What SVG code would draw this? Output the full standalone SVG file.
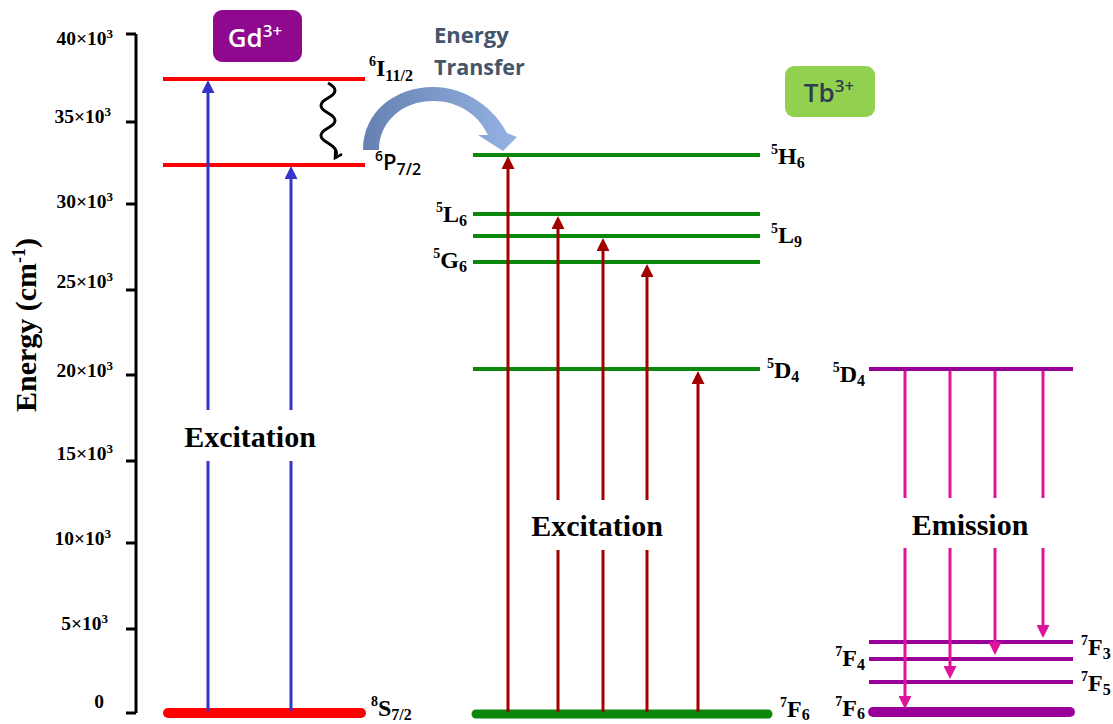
<svg xmlns="http://www.w3.org/2000/svg" width="1113" height="724" viewBox="0 0 1113 724">
<style>
.ax{stroke:#000;stroke-width:3;fill:none}
.tk{font-family:"Liberation Serif",serif;font-weight:bold;font-size:19.5px;fill:#000}
.lb{font-family:"Liberation Serif",serif;font-weight:bold;font-size:24px;fill:#000}
.big{font-family:"Liberation Serif",serif;font-weight:bold;font-size:30px;fill:#000}
.sup{font-size:14px}
.sub{font-size:16px}
.red{stroke:#ff0000;stroke-width:4}
.grn{stroke:#0b870b;stroke-width:4}
.pur{stroke:#990099;stroke-width:4}
.blue{stroke:#3535c8;stroke-width:3}
.dred{stroke:#a00000;stroke-width:3}
.mag{stroke:#dd139c;stroke-width:3}
</style>
<defs>
<marker id="hb" markerUnits="userSpaceOnUse" markerWidth="15" markerHeight="13" refX="4" refY="6.5" orient="auto"><path d="M0,0 L13,6.5 L0,13 z" fill="#3535c8"/></marker>
<marker id="hr" markerUnits="userSpaceOnUse" markerWidth="15" markerHeight="13" refX="4" refY="6.5" orient="auto"><path d="M0,0 L13,6.5 L0,13 z" fill="#a00000"/></marker>
<marker id="hm" markerUnits="userSpaceOnUse" markerWidth="15" markerHeight="13" refX="4" refY="6.5" orient="auto"><path d="M0,0 L13,6.5 L0,13 z" fill="#dd139c"/></marker>
<marker id="hk" markerUnits="userSpaceOnUse" markerWidth="12" markerHeight="12" refX="8" refY="5" orient="auto"><path d="M1,1 L8,5 L1,9" fill="none" stroke="#000" stroke-width="2.5"/></marker>
<linearGradient id="gt" x1="0" y1="0" x2="1" y2="0"><stop offset="0" stop-color="#6780b2"/><stop offset="1" stop-color="#94b3e3"/></linearGradient>
</defs>

<g id="axis">
<path class="ax" d="M136,34 L136,713 M126,34 L136,34 M126,122 L136,122 M126,204 L136,204 M126,290 L136,290 M126,375 L136,375 M126,461 L136,461 M126,543 L136,543 M126,629 L136,629 M126,713 L136,713"/>
<text class="tk" x="113" y="45" text-anchor="end">40×10<tspan dy="-7" font-size="13">3</tspan></text>
<text class="tk" x="111" y="123" text-anchor="end">35×10<tspan dy="-7" font-size="13">3</tspan></text>
<text class="tk" x="113" y="208" text-anchor="end">30×10<tspan dy="-7" font-size="13">3</tspan></text>
<text class="tk" x="113" y="288" text-anchor="end">25×10<tspan dy="-7" font-size="13">3</tspan></text>
<text class="tk" x="113" y="377" text-anchor="end">20×10<tspan dy="-7" font-size="13">3</tspan></text>
<text class="tk" x="113" y="460" text-anchor="end">15×10<tspan dy="-7" font-size="13">3</tspan></text>
<text class="tk" x="111" y="545" text-anchor="end">10×10<tspan dy="-7" font-size="13">3</tspan></text>
<text class="tk" x="108" y="630" text-anchor="end">5×10<tspan dy="-7" font-size="13">3</tspan></text>
<text class="tk" x="99" y="708" text-anchor="middle">0</text>
<text transform="translate(36,325) rotate(-90)" text-anchor="middle" font-family="'Liberation Serif',serif" font-weight="bold" font-size="30">Energy (cm<tspan dy="-11" font-size="18">-1</tspan><tspan dy="11">)</tspan></text>
</g>

<g id="gd-label">
<rect x="213" y="10" width="89" height="52" rx="9" fill="#8e098e"/>
<text x="255" y="47" font-family="'Open Sans',sans-serif" font-weight="600" font-size="26" fill="#fff" text-anchor="middle">Gd<tspan font-size="17" dy="-10">3+</tspan></text>
</g>

<g id="gd-levels">
<line class="red" x1="163" y1="79" x2="365" y2="79"/>
<line class="red" x1="163" y1="165" x2="365" y2="165"/>
<line x1="168" y1="713" x2="361" y2="713" stroke="#ff0000" stroke-width="10" stroke-linecap="round"/>
<text class="lb" x="369" y="76"><tspan class="sup" dy="-10">6</tspan><tspan dy="10">I</tspan><tspan class="sub" dy="5">11/2</tspan></text>
<text x="375" y="170" font-family="'Open Sans',sans-serif" font-weight="600" font-size="22"><tspan font-size="14" dy="-9">6</tspan><tspan dy="9">P</tspan><tspan font-size="16" dy="5">7/2</tspan></text>
<text class="lb" x="371" y="716"><tspan class="sup" dy="-10">8</tspan><tspan dy="10">S</tspan><tspan class="sub" dy="4">7/2</tspan></text>
</g>

<g id="tb-label">
<rect x="785" y="66" width="90" height="51" rx="9" fill="#92d050"/>
<text x="829" y="102" font-family="'Open Sans',sans-serif" font-weight="600" font-size="26" fill="#2f3c50" text-anchor="middle">Tb<tspan font-size="17" dy="-10">3+</tspan></text>
</g>

<g id="tb-levels">
<line class="grn" x1="473" y1="155" x2="760" y2="155"/>
<line class="grn" x1="473" y1="214" x2="760" y2="214"/>
<line class="grn" x1="473" y1="236" x2="760" y2="236"/>
<line class="grn" x1="473" y1="262" x2="760" y2="262"/>
<line class="grn" x1="473" y1="369" x2="760" y2="369"/>
<line x1="476" y1="714" x2="768" y2="714" stroke="#0b870b" stroke-width="9" stroke-linecap="round"/>
<text class="lb" x="771" y="164"><tspan class="sup" dy="-10">5</tspan><tspan dy="10">H</tspan><tspan class="sub" dy="4">6</tspan></text>
<text class="lb" x="467" y="222" text-anchor="end"><tspan class="sup" dy="-10">5</tspan><tspan dy="10">L</tspan><tspan class="sub" dy="4">6</tspan></text>
<text class="lb" x="771" y="243"><tspan class="sup" dy="-10">5</tspan><tspan dy="10">L</tspan><tspan class="sub" dy="4">9</tspan></text>
<text class="lb" x="467" y="268" text-anchor="end"><tspan class="sup" dy="-10">5</tspan><tspan dy="10">G</tspan><tspan class="sub" dy="4">6</tspan></text>
<text class="lb" x="767" y="378"><tspan class="sup" dy="-10">5</tspan><tspan dy="10">D</tspan><tspan class="sub" dy="4">4</tspan></text>
<text class="lb" x="780" y="717"><tspan class="sup" dy="-10">7</tspan><tspan dy="10">F</tspan><tspan class="sub" dy="3">6</tspan></text>
</g>

<g id="em-levels">
<line class="pur" x1="869" y1="369" x2="1073" y2="369"/>
<line class="pur" x1="869" y1="642" x2="1073" y2="642"/>
<line class="pur" x1="869" y1="659" x2="1073" y2="659"/>
<line class="pur" x1="869" y1="682" x2="1073" y2="682"/>
<line x1="873" y1="712" x2="1070" y2="712" stroke="#990099" stroke-width="10" stroke-linecap="round"/>
<text class="lb" x="865" y="382" text-anchor="end"><tspan class="sup" dy="-10">5</tspan><tspan dy="10">D</tspan><tspan class="sub" dy="4">4</tspan></text>
<text class="lb" x="1081" y="655"><tspan class="sup" dy="-10">7</tspan><tspan dy="10">F</tspan><tspan class="sub" dy="4">3</tspan></text>
<text class="lb" x="865" y="666" text-anchor="end"><tspan class="sup" dy="-10">7</tspan><tspan dy="10">F</tspan><tspan class="sub" dy="4">4</tspan></text>
<text class="lb" x="1081" y="691"><tspan class="sup" dy="-10">7</tspan><tspan dy="10">F</tspan><tspan class="sub" dy="4">5</tspan></text>
<text class="lb" x="865" y="716" text-anchor="end"><tspan class="sup" dy="-10">7</tspan><tspan dy="10">F</tspan><tspan class="sub" dy="3">6</tspan></text>
</g>

<g id="transfer">
<path d="M363,150 C363,112 395,87 433,87 C468,87 495,110 507,133 L517,137 L503,151 L478,135 L488,135 C478,114 458,101 433,101 C402,101 379,122 379,150 Z" fill="url(#gt)"/>
<text x="434" y="43" font-family="'Open Sans',sans-serif" font-weight="bold" font-size="22" fill="#44546a">Energy</text>
<text x="434" y="75" font-family="'Open Sans',sans-serif" font-weight="bold" font-size="21.5" fill="#44546a">Transfer</text>
</g>

<g id="connectors">
<line class="blue" x1="208" y1="711" x2="208" y2="461"/>
<line class="blue" x1="208" y1="410" x2="208" y2="89" marker-end="url(#hb)"/>
<line class="blue" x1="291" y1="711" x2="291" y2="461"/>
<line class="blue" x1="291" y1="410" x2="291" y2="175" marker-end="url(#hb)"/>
<path d="M328,83 q14,7.5 0,15 q-14,7.5 0,15 q14,7.5 0,15 q-14,7.5 0,15 q12,7 7,15" fill="none" stroke="#000" stroke-width="3" marker-end="url(#hk)"/>

<line class="dred" x1="508" y1="712" x2="508" y2="165" marker-end="url(#hr)"/>
<line class="dred" x1="558" y1="712" x2="558" y2="550"/>
<line class="dred" x1="558" y1="500" x2="558" y2="225" marker-end="url(#hr)"/>
<line class="dred" x1="603" y1="712" x2="603" y2="550"/>
<line class="dred" x1="603" y1="500" x2="603" y2="247" marker-end="url(#hr)"/>
<line class="dred" x1="647" y1="712" x2="647" y2="550"/>
<line class="dred" x1="647" y1="500" x2="647" y2="273" marker-end="url(#hr)"/>
<line class="dred" x1="698" y1="712" x2="698" y2="380" marker-end="url(#hr)"/>

<line class="mag" x1="905" y1="371" x2="905" y2="498"/>
<line class="mag" x1="905" y1="548" x2="905" y2="700" marker-end="url(#hm)"/>
<line class="mag" x1="950" y1="371" x2="950" y2="498"/>
<line class="mag" x1="950" y1="548" x2="950" y2="670" marker-end="url(#hm)"/>
<line class="mag" x1="995" y1="371" x2="995" y2="498"/>
<line class="mag" x1="995" y1="548" x2="995" y2="646" marker-end="url(#hm)"/>
<line class="mag" x1="1043" y1="371" x2="1043" y2="498"/>
<line class="mag" x1="1043" y1="548" x2="1043" y2="629" marker-end="url(#hm)"/>
</g>

<g id="captions">
<text class="big" x="250" y="447" text-anchor="middle">Excitation</text>
<text class="big" x="597" y="536" text-anchor="middle">Excitation</text>
<text class="big" x="970" y="535" text-anchor="middle">Emission</text>
</g>
</svg>
